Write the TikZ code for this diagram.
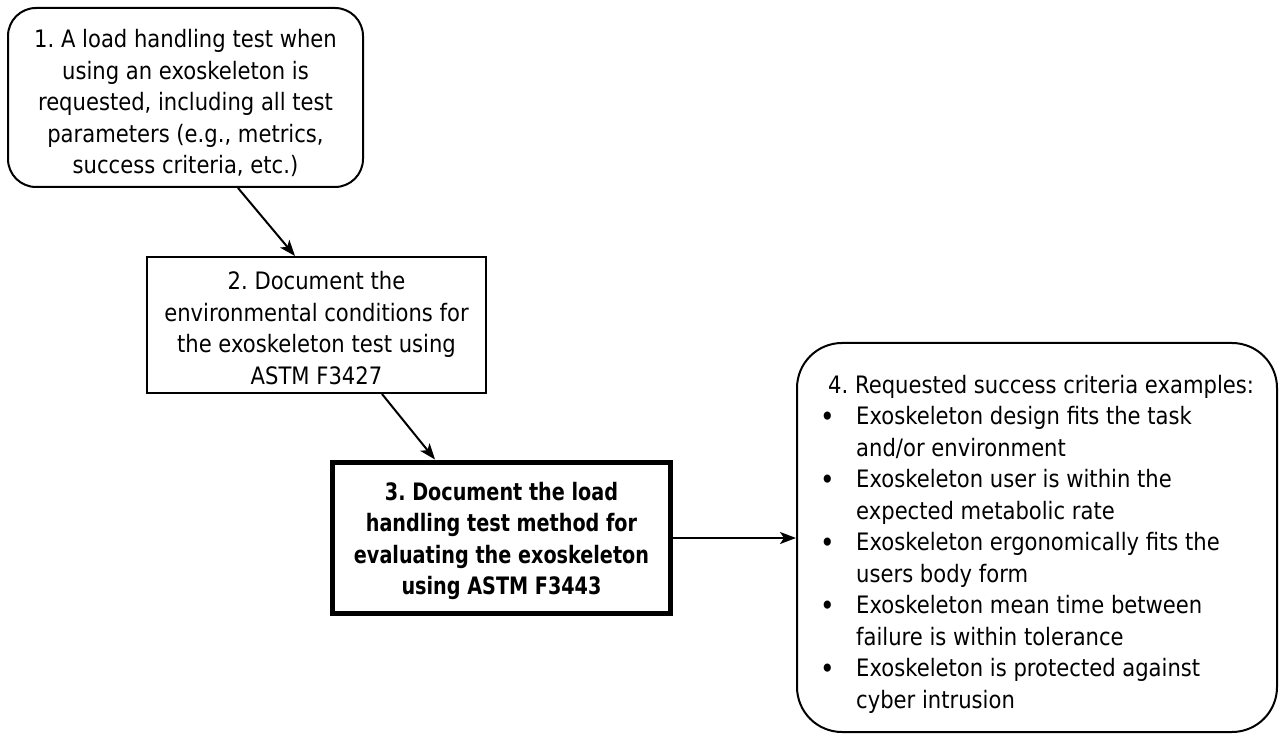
\documentclass[tikz,border=0pt]{standalone}
\usepackage{fontspec}
\setmainfont{DejaVu Sans}[FakeStretch=0.88, BoldFeatures={FakeStretch=0.80}]
\usetikzlibrary{arrows.meta}
\frenchspacing
\tikzset{
  boxtext/.style={font=\fontsize{24}{31.5}\selectfont, align=center, inner sep=0pt},
  roundbox/.style={draw=black, line width=2pt, rounded corners=28pt},
  plainbox/.style={draw=black, line width=2pt},
  thickbox/.style={draw=black, line width=5pt},
  flow/.style={line width=2pt, -{Stealth[length=16pt,width=12pt,inset=4pt]}},
}
\newcommand{\bul}{\makebox[35pt][l]{\hspace*{-1pt}\raisebox{-1.5pt}{\fontsize{28}{31.5}\selectfont\textbullet}}}
\newcommand{\cont}{\hspace*{35pt}}
\begin{document}
\begin{tikzpicture}[x=1pt,y=-1pt]
\useasboundingbox (0,0) rectangle (1280,735);
% box 1
\node[roundbox, minimum width=355pt, minimum height=179pt] (n1) at (185.5,97.5) {};
\node[boxtext] (t1) at (185.5,103) {1. A load handling test when\\using an exoskeleton is\\requested, including all test\\parameters (e.g., metrics,\\success criteria, etc.)};
% box 2
\node[plainbox, minimum width=339pt, minimum height=136pt] (n2) at (316.5,325) {};
\node[boxtext] (t2) at (316.5,328) {2. Document the\\environmental conditions for\\the exoskeleton test using\\ASTM F3427};
% box 3
\node[thickbox, minimum width=338pt, minimum height=151pt] (n3) at (501.5,537.5) {};
\node[boxtext, font=\fontsize{24}{31.5}\selectfont\bfseries] (t3) at (501.5,541) {3. Document the load\\handling test method for\\evaluating the exoskeleton\\using ASTM F3443};
% box 4
\node[roundbox, rounded corners=45pt, minimum width=480pt, minimum height=389pt] (n4) at (1037,537.5) {};
\node[boxtext, align=left, anchor=north west] (t4) at (821,375) {%
\hspace*{7pt}4. Requested success criteria examples:\\
\bul Exoskeleton design fits the task\\
\cont and/or environment\\
\bul Exoskeleton user is within the\\
\cont expected metabolic rate\\
\bul Exoskeleton ergonomically fits the\\
\cont users body form\\
\bul Exoskeleton mean time between\\
\cont failure is within tolerance\\
\bul Exoskeleton is protected against\\
\cont cyber intrusion};
% connectors
\draw[flow] (n1.south -| 238,0) -- (n2.north -| 295,0);
\draw[flow] (n2.south -| 382,0) -- (n3.north -| 435,0);
\draw[flow] (n3.east |- 0,538) -- (n4.west |- 0,538);
\end{tikzpicture}
\end{document}
